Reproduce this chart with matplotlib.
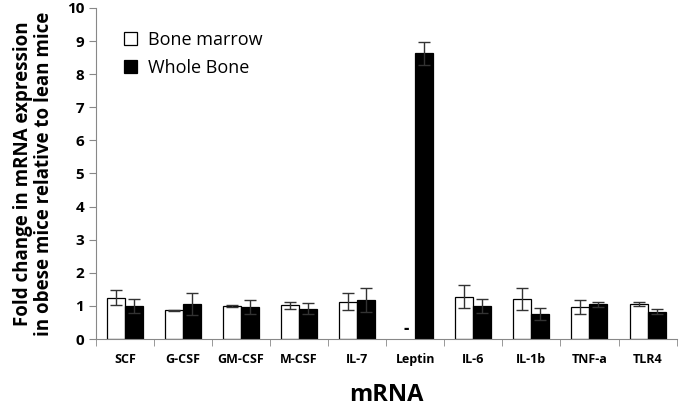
import numpy as np
import matplotlib.pyplot as plt

plt.rcParams['font.family'] = ['Open Sans', 'DejaVu Sans']

genes = ['SCF', 'G-CSF', 'GM-CSF', 'M-CSF', 'IL-7', 'Leptin', 'IL-6', 'IL-1b', 'TNF-a', 'TLR4']
marrow = [1.25, 0.87, 1.00, 1.02, 1.13, np.nan, 1.28, 1.22, 0.97, 1.05]
marrow_err = [0.22, 0.02, 0.04, 0.10, 0.25, np.nan, 0.35, 0.33, 0.20, 0.06]
bone = [1.00, 1.05, 0.97, 0.92, 1.18, 8.63, 1.00, 0.75, 1.05, 0.83]
bone_err = [0.20, 0.33, 0.20, 0.16, 0.35, 0.35, 0.20, 0.18, 0.07, 0.08]

fig = plt.figure(figsize=(6.8, 4.17), dpi=100)
ax = fig.add_axes([0.141, 0.187, 0.854, 0.794])

x = np.arange(len(genes))
w = 0.31
ekw = dict(ecolor='#333333', elinewidth=1.0, capsize=4, capthick=1.0)
ax.bar(x - w/2, marrow, w, yerr=marrow_err, color='white', edgecolor='black',
       linewidth=0.9, error_kw=ekw, label='Bone marrow')
ax.bar(x + w/2, bone, w, yerr=bone_err, color='black', edgecolor='black',
       linewidth=0.9, error_kw=ekw, label='Whole Bone')
# leptin not detected in bone marrow
ax.text(5 - w/2, 0.3, '-', ha='center', va='center', fontsize=12, fontweight='bold')

ax.set_xlim(-0.5, len(genes) - 0.5)
ax.set_ylim(0, 10)
ax.set_yticks(range(0, 11))
ax.set_xticks(x)
ax.set_xticklabels(genes, fontsize=9, fontweight='bold')
ax.set_xticks(np.arange(-0.5, len(genes)), minor=True)
ax.tick_params(axis='x', which='major', length=0, pad=10)
ax.tick_params(axis='x', which='minor', length=5, color='#888888', direction='out')
ax.tick_params(axis='y', length=5, color='#888888', labelsize=11)
for t in ax.get_yticklabels():
    t.set_fontweight('bold')

for s in ['top', 'right']:
    ax.spines[s].set_visible(False)
for s in ['left', 'bottom']:
    ax.spines[s].set_color('#888888')

ax.set_ylabel('Fold change in mRNA expression\nin obese mice relative to lean mice',
              fontsize=13.5, fontweight='bold', labelpad=9, linespacing=1.1)
ax.set_xlabel('mRNA', fontsize=17, fontweight='bold', labelpad=12)

ax.legend(loc='upper left', bbox_to_anchor=(0.02, 0.98), frameon=False,
          fontsize=13, handlelength=0.75, handleheight=0.75, handletextpad=0.6,
          labelspacing=0.55)

fig.savefig('out.png', dpi=100)
